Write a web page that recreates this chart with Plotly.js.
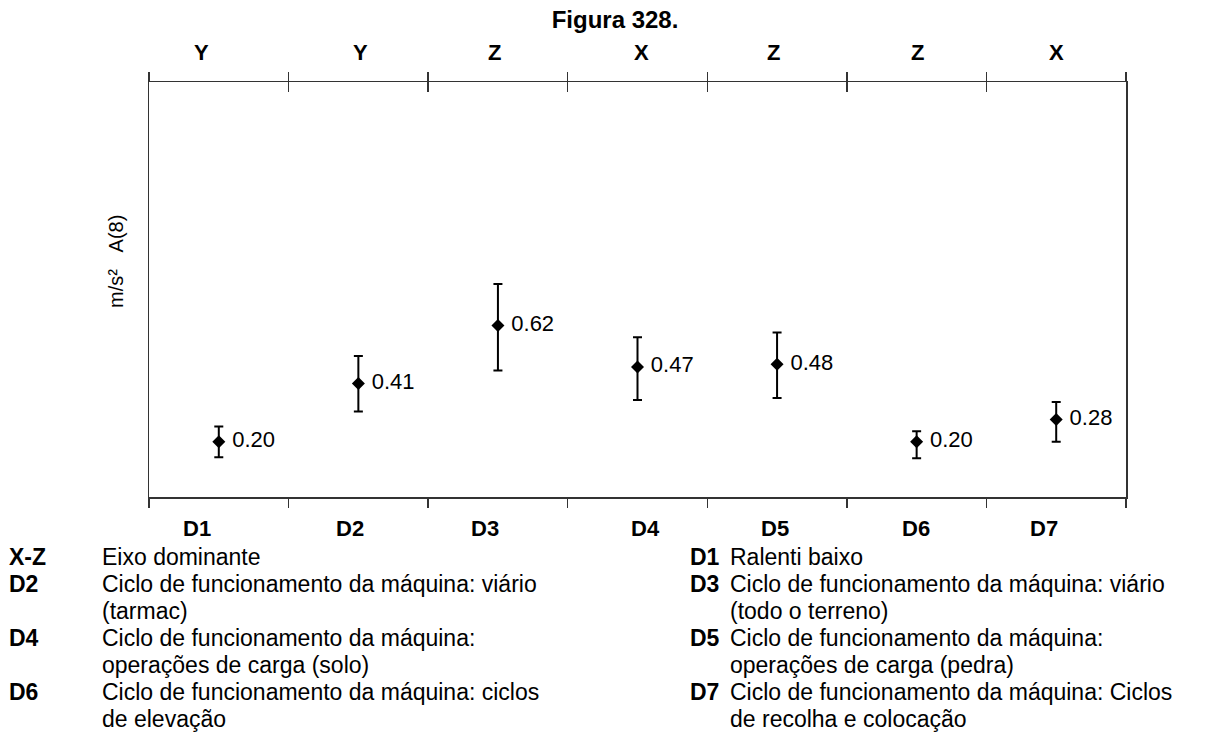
<!DOCTYPE html>
<html>
<head>
<meta charset="utf-8">
<script src="https://cdn.plot.ly/plotly-3.0.1.min.js"></script>
<style>html,body{margin:0;padding:0;background:#fff;}#chart{width:1209px;height:735px;}</style>
</head>
<body>
<div id="chart"></div>
<script>
// ---- data ----
const categories = ['D1', 'D2', 'D3', 'D4', 'D5', 'D6', 'D7'];
const dominantAxis = ['Y', 'Y', 'Z', 'X', 'Z', 'Z', 'X'];
const values = [0.20, 0.41, 0.62, 0.47, 0.48, 0.20, 0.28];
const upperBound = [0.255, 0.51, 0.77, 0.577, 0.595, 0.238, 0.343];
const lowerBound = [0.144, 0.309, 0.457, 0.351, 0.358, 0.140, 0.200];
const titleText = 'Figura 328.';
const yTitleText = 'm/s\u00b2\u00a0\u00a0\u00a0A(8)';
const legendLeftCodes = ['X-Z', 'D2', 'D4', 'D6'];
const legendLeftText = [
  ['Eixo dominante'],
  ['Ciclo de funcionamento da máquina: viário', '(tarmac)'],
  ['Ciclo de funcionamento da máquina:', 'operações de carga (solo)'],
  ['Ciclo de funcionamento da máquina: ciclos', 'de elevação']
];
const legendRightCodes = ['D1', 'D3', 'D5', 'D7'];
const legendRightText = [
  ['Ralenti baixo'],
  ['Ciclo de funcionamento da máquina: viário', '(todo o terreno)'],
  ['Ciclo de funcionamento da máquina:', 'operações de carga (pedra)'],
  ['Ciclo de funcionamento da máquina: Ciclos', 'de recolha e colocação']
];

// ---- layout geometry (pixels) ----
const W = 1209, H = 735;
const PL = 149, PR = 1126, PT = 82, PB = 497;
const px2x = p => (p - PL) / (PR - PL);
const py2y = p => (PB - p) / (PB - PT);
const FONT = 'Liberation Sans, Arial, sans-serif';
const INK = '#333';

const bottomShift = [-22, -8, -13, 8, -2, -1, -12];
const topShift = [-17, 2, -3, 4, -4, 1, 0];

const annotations = [];
categories.forEach((c, i) => {
  annotations.push({
    xref: 'x', yref: 'paper', x: c, y: py2y(52), xshift: topShift[i],
    text: dominantAxis[i], showarrow: false, xanchor: 'center', yanchor: 'middle',
    font: {family: FONT, size: 22, weight: 'bold', color: '#000'}
  });
  annotations.push({
    xref: 'x', yref: 'paper', x: c, y: py2y(528), xshift: bottomShift[i],
    text: c, showarrow: false, xanchor: 'center', yanchor: 'middle',
    font: {family: FONT, size: 22, weight: 'bold', color: '#000'}
  });
});

annotations.push({
  xref: 'paper', yref: 'paper', x: px2x(116), y: py2y(262),
  text: yTitleText, textangle: -90, showarrow: false,
  xanchor: 'center', yanchor: 'middle',
  font: {family: FONT, size: 20, color: '#000'}
});

function addLegend(codes, texts, codeX, textX) {
  let row = 0;
  const top = 557, step = 27;
  codes.forEach((code, i) => {
    annotations.push({
      xref: 'paper', yref: 'paper', x: px2x(codeX), y: py2y(top + row * step),
      text: code, showarrow: false, xanchor: 'left', yanchor: 'middle',
      font: {family: FONT, size: 23, weight: 'bold', color: '#000'}
    });
    texts[i].forEach(line => {
      annotations.push({
        xref: 'paper', yref: 'paper', x: px2x(textX), y: py2y(top + row * step),
        text: line, showarrow: false, xanchor: 'left', yanchor: 'middle',
        font: {family: FONT, size: 23, color: '#000'}
      });
      row++;
    });
  });
}
addLegend(legendLeftCodes, legendLeftText, 7, 100);
addLegend(legendRightCodes, legendRightText, 688, 728);

const trace = {
  type: 'scatter',
  mode: 'markers+text',
  x: categories,
  y: values,
  text: values.map(v => '\u00a0' + v.toFixed(2)),
  textposition: 'middle right',
  textfont: {family: FONT, size: 22, color: '#000'},
  marker: {symbol: 'diamond', size: 10, color: '#000'},
  error_y: {
    type: 'data', symmetric: false,
    array: upperBound.map((u, i) => u - values[i]),
    arrayminus: lowerBound.map((l, i) => values[i] - l),
    color: '#000', thickness: 2, width: 4.5
  },
  showlegend: false, hoverinfo: 'skip'
};
const ghost = {
  type: 'scatter', mode: 'markers', x: categories, y: values,
  xaxis: 'x2', marker: {opacity: 0}, showlegend: false, hoverinfo: 'skip'
};

const layout = {
  width: W, height: H,
  margin: {l: PL, r: W - PR, t: PT, b: H - PB, pad: 0},
  paper_bgcolor: '#fff', plot_bgcolor: '#fff',
  showlegend: false,
  title: {
    text: titleText, x: 615 / W, xanchor: 'center', xref: 'container',
    y: 1 - 20 / H, yanchor: 'middle', yref: 'container',
    font: {family: FONT, size: 24, weight: 'bold', color: '#000'}
  },
  xaxis: {
    type: 'category', range: [-0.5, 6.5],
    showline: true, linecolor: INK, linewidth: 1.5, mirror: 'allticks',
    ticks: 'outside', tickson: 'boundaries', ticklen: 9, tickcolor: INK, tickwidth: 1.5,
    showticklabels: false, showgrid: false, zeroline: false, fixedrange: true
  },
  xaxis2: {
    type: 'category', overlaying: 'x', side: 'top', range: [-0.5, 6.5],
    matches: 'x',
    ticks: 'inside', tickson: 'boundaries', ticklen: 10, tickcolor: INK, tickwidth: 1.5,
    showline: false, showticklabels: false, showgrid: false, zeroline: false
  },
  yaxis: {
    range: [0, 1.5], showline: true, linecolor: INK, linewidth: 1.5, mirror: true,
    ticks: '', showticklabels: false, showgrid: false, zeroline: false, fixedrange: true
  },
  annotations: annotations
};

Plotly.newPlot('chart', [trace, ghost], layout, {staticPlot: true, displayModeBar: false});
</script>
</body>
</html>
